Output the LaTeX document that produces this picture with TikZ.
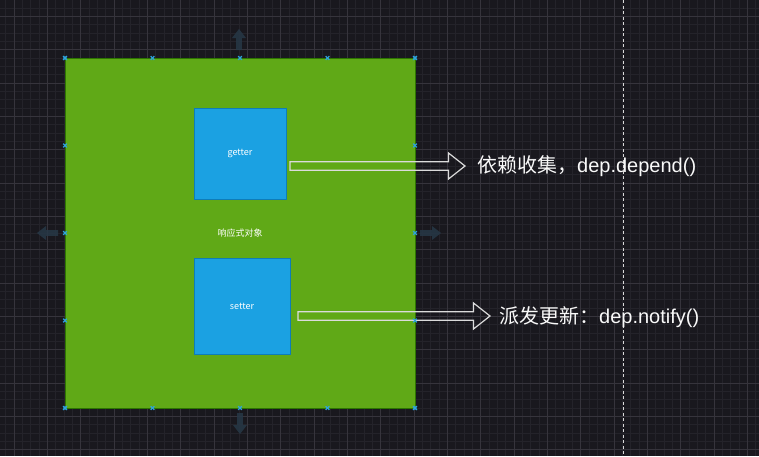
\documentclass[tikz,border=0pt]{standalone}
\usepackage{fontspec}
\setmainfont{Liberation Sans}
\newfontfamily\cjk{Noto Sans CJK SC}
\usetikzlibrary{positioning, calc}
\definecolor{canvasbg}{HTML}{19181E}
\definecolor{gridminor}{HTML}{24232A}
\definecolor{gridmajor}{HTML}{36343C}
\definecolor{objfill}{HTML}{60A917}
\definecolor{objline}{HTML}{2D7600}
\definecolor{accfill}{HTML}{1BA1E2}
\definecolor{accline}{HTML}{0E7DB8}
\definecolor{handle}{HTML}{2EA3DC}
\definecolor{hover}{HTML}{273847}
\tikzset{
    objbox/.style={draw=objline, fill=objfill, line width=1pt, inner sep=0pt, outer sep=0pt,
        minimum size=350pt, text=white, font=\cjk\fontsize{9}{11}\selectfont},
    accbox/.style={draw=accline, fill=accfill, line width=1pt, inner sep=0pt, outer sep=0pt,
        text=white, font=\cjk\fontsize{9}{11}\selectfont},
    flowarrow/.style={draw=white!72!gray, line width=1.2pt},
    note/.style={anchor=west, inner sep=0pt, text=white!95!gray, font=\fontsize{20}{24}\selectfont},
}
\def\hollowarrow#1#2{%
    \draw[flowarrow]
        let \p1 = (#1), \p2 = (#2)
        in (\x1, \y1+4.2pt) -- (\x2-16.5pt, \y1+4.2pt) -- (\x2-16.5pt, \y1+13pt)
        -- (\x2, \y1) -- (\x2-16.5pt, \y1-13pt) -- (\x2-16.5pt, \y1-4.2pt)
        -- (\x1, \y1-4.2pt) -- cycle;
}
\begin{document}
\begin{tikzpicture}[x=1pt, y=-1pt]
    \useasboundingbox[fill=canvasbg] (0,0) rectangle (759,456);

    % grid
    \foreach \k in {-1,...,90}
    {
        \draw[gridminor, line width=0.6pt] ({14+8.3333*\k}, 0) -- ++(0, 456);
    }
    \foreach \k in {-1,...,53}
    {
        \draw[gridminor, line width=0.6pt] (0, {16.33+8.3333*\k}) -- ++(759, 0);
    }
    \foreach \k in {0,...,22}
    {
        \draw[gridmajor, line width=0.8pt] ({14+33.333*\k}, 0) -- ++(0, 456);
    }
    \foreach \k in {-1,...,13}
    {
        \draw[gridmajor, line width=0.8pt] (0, {16.33+33.333*\k}) -- ++(759, 0);
    }

    % page border
    \draw[white!70!gray, line width=0.9pt, dash pattern=on 3pt off 2.5pt] (623.3, 0) -- (623.3, 456);

    % boxes
    \node[objbox] (obj) at (240, 233) {响应式对象};
    \node[accbox, minimum width=92pt, minimum height=91pt] (getter) at (240, 153.5) {getter};
    \node[accbox, minimum width=96pt, minimum height=96pt] (setter) at (242, 306) {setter};

    % notes
    \node[note] (collect) at (477, 166.5) {{\cjk 依赖收集，}dep.depend()};
    \node[note] (notify) at (499, 317) {{\cjk 派发更新：}dep.notify()};

    % arrows
    \coordinate (gout) at ($(getter.east)+(4, 12.5)$);
    \coordinate (gtip) at ($(collect.west)+(-12, 0)$);
    \coordinate (sout) at ($(setter.east)+(8, 10)$);
    \coordinate (stip) at ($(notify.west)+(-9, 0)$);
    \hollowarrow{gout}{gtip}
    \hollowarrow{sout}{stip}

    % hover arrows
    \foreach \px/\py/\ang in {239/50/90, 58/233/180, 420/233/0, 240/413/-90}
    {
        \begin{scope}[shift={(\px,\py)}, rotate=\ang]
            \fill[hover, opacity=0.85] (0,-2.8) -- (12,-2.8) -- (12,-7) -- (21,0)
                -- (12,7) -- (12,2.8) -- (0,2.8) -- cycle;
        \end{scope}
    }

    % selection handles
    \foreach \t in {0, 0.25, 0.5, 0.75, 1}
    {
        \foreach \a/\b in {north west/north east, south west/south east,
                           north west/south west, north east/south east}
        {
            \coordinate (h) at ($(obj.\a)!\t!(obj.\b)$);
            \draw[handle, line width=1.3pt] ($(h)+(-1.8,-1.8)$) -- ($(h)+(1.8,1.8)$);
            \draw[handle, line width=1.3pt] ($(h)+(-1.8,1.8)$) -- ($(h)+(1.8,-1.8)$);
        }
    }
\end{tikzpicture}
\end{document}
